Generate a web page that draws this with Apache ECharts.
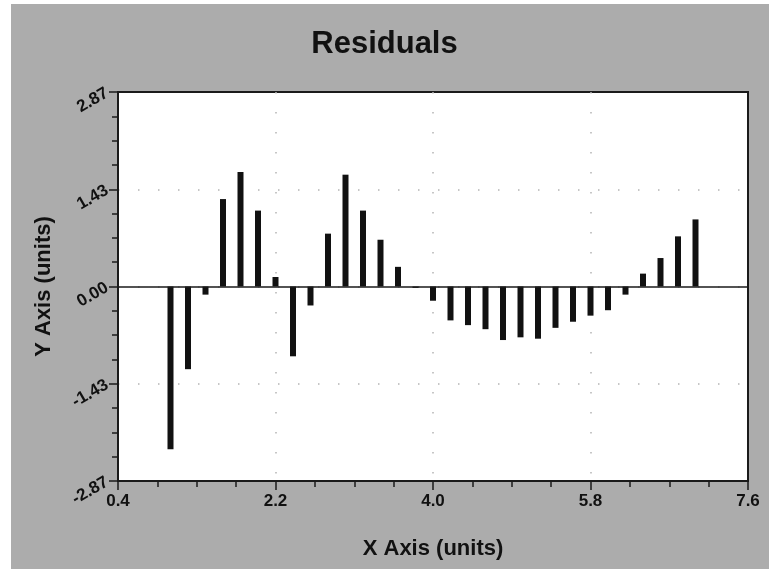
<!DOCTYPE html>
<html>
<head>
<meta charset="utf-8">
<script src="https://cdn.jsdelivr.net/npm/echarts@6/dist/echarts.min.js"></script>
<style>
  html, body { margin: 0; padding: 0; background: #ffffff; }
  #chart { width: 769px; height: 569px; }
</style>
</head>
<body>
<div id="chart"></div>
<script>
// Residual values at x = 1.0 ... 7.0 (step 0.2)
const xValues = [1.0, 1.2, 1.4, 1.6, 1.8, 2.0, 2.2, 2.4, 2.6, 2.8, 3.0, 3.2, 3.4, 3.6, 3.8,
                 4.0, 4.2, 4.4, 4.6, 4.8, 5.0, 5.2, 5.4, 5.6, 5.8, 6.0, 6.2, 6.4, 6.6, 6.8, 7.0];
const residuals = [-2.40, -1.22, -0.12, 1.29, 1.69, 1.12, 0.14, -1.03, -0.28, 0.78, 1.65, 1.12, 0.69, 0.29, -0.02,
                   -0.21, -0.50, -0.57, -0.63, -0.79, -0.75, -0.77, -0.61, -0.52, -0.43, -0.35, -0.12, 0.19, 0.42, 0.74, 0.99];

// Axis definitions
const X_MIN = 0.4, X_MAX = 7.6, X_STEP = 1.8;
const Y_MIN = -2.87, Y_MAX = 2.87, Y_STEP = 1.435;
const xTickLabels = ['0.4', '2.2', '4.0', '5.8', '7.6'];
const yTickLabels = ['-2.87', '-1.43', '0.00', '1.43', '2.87'];

const FONT = '"Liberation Sans", Arial, sans-serif';

// The x scale is measured from X_MIN so that ticks fall on 0.4, 2.2, 4.0 ...
const seriesData = xValues.map((x, i) => [x - X_MIN, residuals[i]]);

const chart = echarts.init(document.getElementById('chart'), null, { renderer: 'canvas' });

const tickStyle = { color: '#1a1a1a', width: 1.5 };
const dotted = { color: '#b4b4b4', width: 1.5, type: [1.5, 18.5] };

chart.setOption({
  backgroundColor: '#ffffff',
  animation: false,
  graphic: [{
    type: 'rect',
    z: -10,
    silent: true,
    shape: { x: 11, y: 4, width: 769, height: 569 },
    style: { fill: '#acacac' }
  }],
  title: {
    text: 'Residuals',
    left: 'center',
    top: 24,
    textStyle: { fontFamily: FONT, fontWeight: 'bold', fontSize: 31, color: '#111111' }
  },
  grid: {
    left: 118, right: 21, top: 92, bottom: 88,
    show: true,
    backgroundColor: '#ffffff',
    borderColor: '#1a1a1a',
    borderWidth: 2
  },
  xAxis: {
    type: 'value',
    min: 0,
    max: X_MAX - X_MIN,
    interval: X_STEP,
    name: 'X Axis (units)',
    nameLocation: 'middle',
    nameGap: 57,
    nameTextStyle: { fontFamily: FONT, fontWeight: 'bold', fontSize: 22, color: '#111111' },
    axisLine: { show: true, onZero: false, lineStyle: { color: '#1a1a1a', width: 2 } },
    axisTick: { show: true, inside: false, length: 9, lineStyle: tickStyle },
    minorTick: { show: true, splitNumber: 4, length: 6, lineStyle: tickStyle },
    axisLabel: {
      margin: 12,
      fontFamily: FONT, fontWeight: 'bold', fontSize: 17, color: '#111111',
      formatter: v => xTickLabels[Math.round(v / X_STEP)]
    },
    splitLine: { show: true, showMinLine: false, showMaxLine: false, lineStyle: dotted }
  },
  yAxis: {
    type: 'value',
    min: Y_MIN,
    max: Y_MAX,
    interval: Y_STEP,
    name: 'Y Axis (units)',
    nameLocation: 'middle',
    nameGap: 63,
    nameTextStyle: { fontFamily: FONT, fontWeight: 'bold', fontSize: 22, color: '#111111' },
    axisLine: { show: true, onZero: false, lineStyle: { color: '#1a1a1a', width: 2 } },
    axisTick: { show: true, inside: false, length: 9, lineStyle: tickStyle },
    minorTick: { show: true, splitNumber: 4, length: 6, lineStyle: tickStyle },
    axisLabel: {
      rotate: 30,
      margin: 11,
      fontFamily: FONT, fontWeight: 'bold', fontSize: 17, color: '#111111',
      formatter: v => yTickLabels[Math.round((v - Y_MIN) / Y_STEP)]
    },
    splitLine: { show: true, showMinLine: false, showMaxLine: false, lineStyle: dotted }
  },
  series: [{
    type: 'bar',
    data: seriesData,
    barWidth: 6,
    itemStyle: { color: '#111111' },
    markLine: {
      silent: true,
      symbol: 'none',
      label: { show: false },
      lineStyle: { color: '#1a1a1a', width: 1.5, type: 'solid' },
      data: [{ yAxis: 0 }]
    }
  }]
});
</script>
</body>
</html>
